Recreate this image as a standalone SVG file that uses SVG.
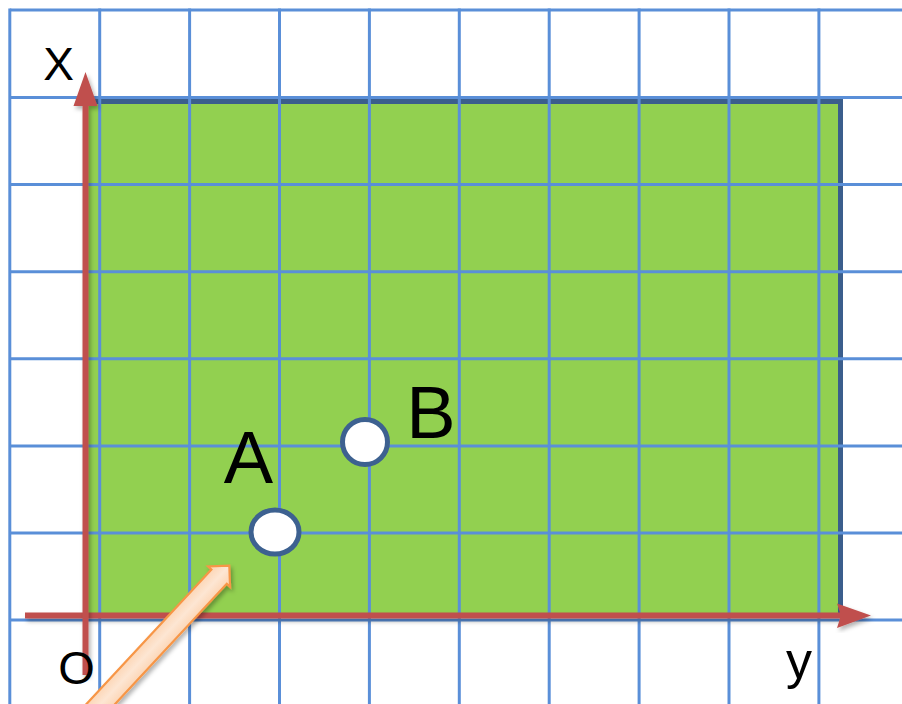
<svg xmlns="http://www.w3.org/2000/svg" width="902" height="704" viewBox="0 0 902 704">
  <style>
    .grid line { stroke: #5a8fd8; stroke-width: 3; }
    .lbl { font-family: "Liberation Sans", Arial, sans-serif; fill: #000; text-anchor: middle; }
    .axis { fill: #c0504d; }
    .pt { fill: #ffffff; stroke: #3d6190; stroke-width: 5; }
  </style>
  <defs>
    <filter id="sh" x="-20%" y="-20%" width="140%" height="140%">
      <feDropShadow dx="2" dy="3" stdDeviation="2" flood-color="#000" flood-opacity="0.3"/>
    </filter>
    <linearGradient id="og" x1="0" y1="0" x2="0" y2="1">
      <stop offset="0" stop-color="#fcd0ab"/>
      <stop offset="0.5" stop-color="#fde6d3"/>
      <stop offset="1" stop-color="#fcd0ab"/>
    </linearGradient>
  </defs>

  <rect width="902" height="704" fill="#ffffff"/>

  <g id="field">
    <rect x="86" y="99" width="755" height="516" fill="#92d050"/>
    <rect x="86" y="99" width="757" height="5" fill="#3b5e8c"/>
    <rect x="838" y="99" width="5" height="515" fill="#3b5e8c"/>
  </g>

  <g class="grid" id="grid">
    <line x1="9.8" y1="10" x2="902" y2="10"/>
    <line x1="9.8" y1="97.5" x2="902" y2="97.5"/>
    <line x1="9.8" y1="184.6" x2="902" y2="184.6"/>
    <line x1="9.8" y1="271.7" x2="902" y2="271.7"/>
    <line x1="9.8" y1="358.8" x2="902" y2="358.8"/>
    <line x1="9.8" y1="445.9" x2="902" y2="445.9"/>
    <line x1="9.8" y1="533" x2="902" y2="533"/>
    <line x1="9.8" y1="620" x2="902" y2="620"/>
    <line x1="9.8" y1="8.5" x2="9.8" y2="704"/>
    <line x1="99.7" y1="8.5" x2="99.7" y2="704"/>
    <line x1="189.6" y1="8.5" x2="189.6" y2="704"/>
    <line x1="279.5" y1="8.5" x2="279.5" y2="704"/>
    <line x1="369.4" y1="8.5" x2="369.4" y2="704"/>
    <line x1="459.3" y1="8.5" x2="459.3" y2="704"/>
    <line x1="549.2" y1="8.5" x2="549.2" y2="704"/>
    <line x1="639.1" y1="8.5" x2="639.1" y2="704"/>
    <line x1="729" y1="8.5" x2="729" y2="704"/>
    <line x1="818.9" y1="8.5" x2="818.9" y2="704"/>
  </g>

  <g id="connectors">
    <g id="axis-y" filter="url(#sh)">
      <polygon class="axis" points="25,612.5 840,612.5 837,603.5 871,615.5 837,628 840,618.5 25,618.5"/>
    </g>
    <g id="axis-x" filter="url(#sh)">
      <polygon class="axis" points="82.5,675 82.5,106 73.5,106 85.5,72 97.5,106 88.5,106 88.5,675"/>
    </g>
    <g id="pointer" filter="url(#sh)">
      <polygon transform="translate(229.3,565.7) rotate(-47.1)" points="0,0 -15,-15 -15,-10.5 -260,-10.5 -260,10.5 -15,10.5 -15,15" fill="url(#og)" stroke="#f79646" stroke-width="2.2" stroke-linejoin="miter"/>
    </g>
  </g>

  <g id="label-x"><text class="lbl" x="58.5" y="80" font-size="46">X</text></g>
  <g id="label-o"><text class="lbl" x="76.5" y="684" font-size="47">O</text></g>
  <g id="label-y"><text class="lbl" x="799" y="678" font-size="52">y</text></g>

  <g id="point-A">
    <ellipse class="pt" cx="275" cy="532" rx="24" ry="22"/>
    <text class="lbl" x="248.5" y="483" font-size="74">A</text>
  </g>
  <g id="point-B">
    <circle class="pt" cx="365" cy="442" r="22.5"/>
    <text class="lbl" x="431" y="438" font-size="74">B</text>
  </g>
</svg>
